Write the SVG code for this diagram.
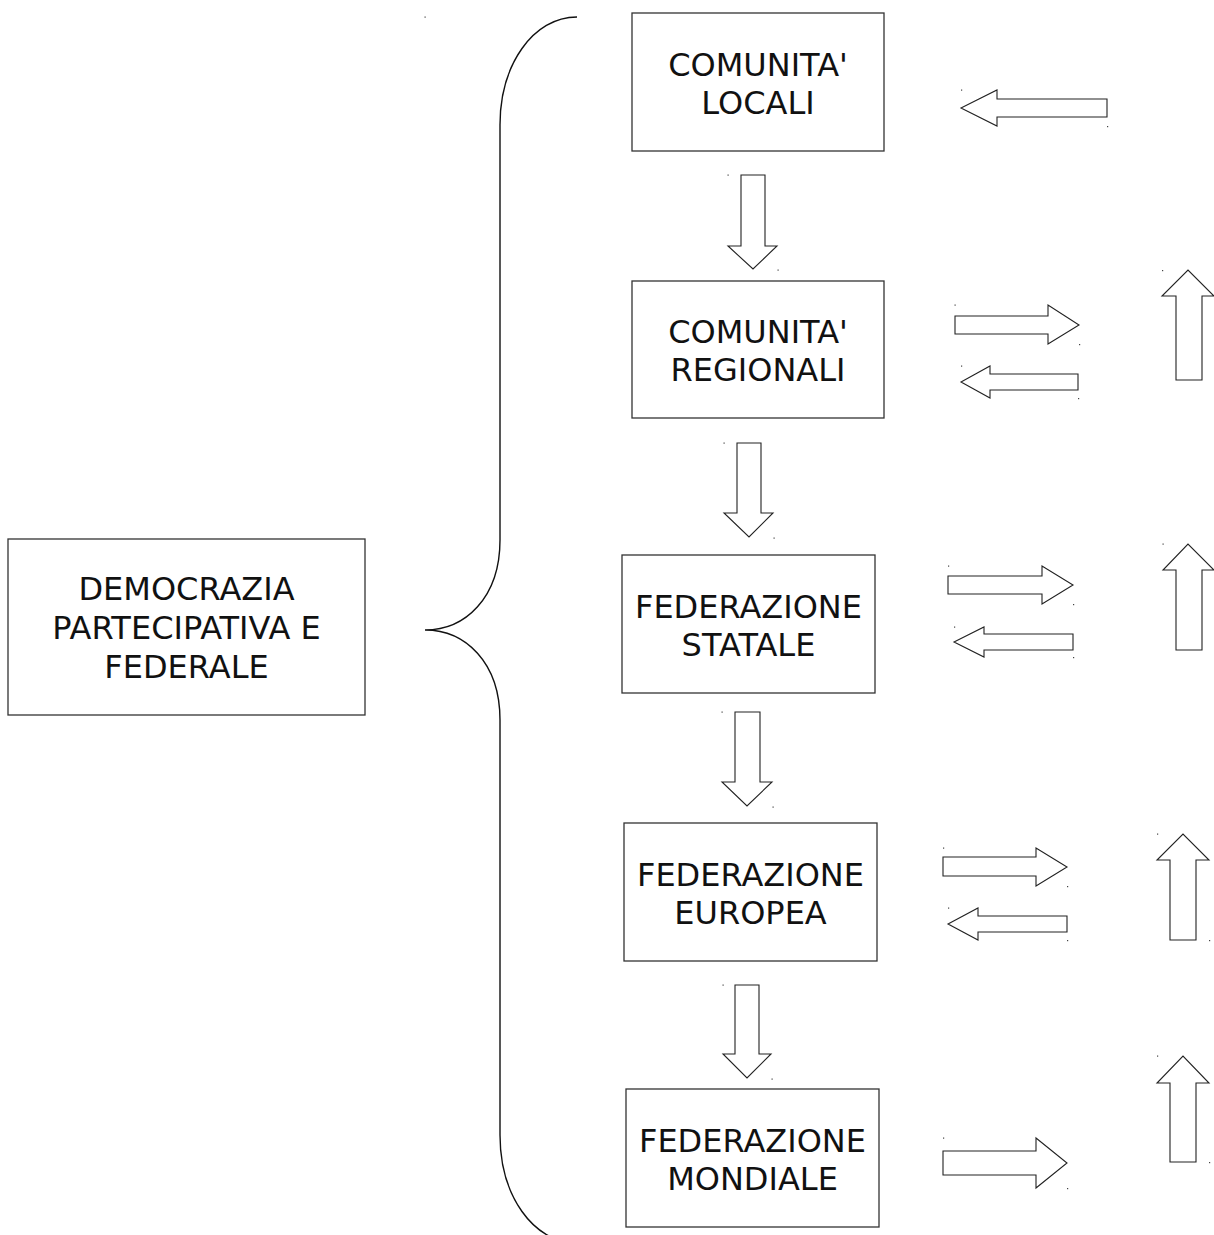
<svg xmlns="http://www.w3.org/2000/svg" width="1214" height="1235" viewBox="0 0 1214 1235">
<style>
.box{fill:#fff;stroke:#333;stroke-width:1.3}
.arr{fill:#fff;stroke:#222;stroke-width:1.1;stroke-linejoin:miter}
.brace{fill:none;stroke:#111;stroke-width:1.4}
.lbl{font-family:"DejaVu Sans",Verdana,sans-serif;font-size:32px;fill:#111;text-anchor:middle}
.dot{fill:#444}
</style>
<rect width="1214" height="1235" fill="#fff"/>
<g id="brace">
<path class="brace" d="M577,17 C533,17 500,65 500,125 L500,540 C500,598 465,630 425,630 C465,630 500,662 500,720 L500,1135 C500,1195 533,1243 577,1243"/>
<rect class="dot" x="424.5" y="16.5" width="1.2" height="1.2"/>
</g>
<g id="democrazia">
<rect class="box" x="8" y="539" width="357" height="176"/>
<text class="lbl" x="186.5" y="600">DEMOCRAZIA</text>
<text class="lbl" x="186.5" y="639">PARTECIPATIVA E</text>
<text class="lbl" x="186.5" y="678">FEDERALE</text>
</g>
<g id="locali">
<rect class="box" x="632" y="13" width="252" height="138"/>
<text class="lbl" x="758" y="76">COMUNITA'</text>
<text class="lbl" x="758" y="113.5">LOCALI</text>
</g>
<g id="regionali">
<rect class="box" x="632" y="281" width="252" height="137"/>
<text class="lbl" x="758" y="343">COMUNITA'</text>
<text class="lbl" x="758" y="380.5">REGIONALI</text>
</g>
<g id="statale">
<rect class="box" x="622" y="555" width="253" height="138"/>
<text class="lbl" x="748.5" y="618">FEDERAZIONE</text>
<text class="lbl" x="748.5" y="655.5">STATALE</text>
</g>
<g id="europea">
<rect class="box" x="624" y="823" width="253" height="138"/>
<text class="lbl" x="750.5" y="886">FEDERAZIONE</text>
<text class="lbl" x="750.5" y="923.5">EUROPEA</text>
</g>
<g id="mondiale">
<rect class="box" x="626" y="1089" width="253" height="138"/>
<text class="lbl" x="752.5" y="1152">FEDERAZIONE</text>
<text class="lbl" x="752.5" y="1189.5">MONDIALE</text>
</g>
<g id="connectors">
<polygon class="arr" points="741,175 765,175 765,246 777,246 753,269 728,246 741,246"/>
<polygon class="arr" points="737,443 761,443 761,513 773,513 749,537 724,513 737,513"/>
<polygon class="arr" points="735,712 760,712 760,782 772,782 747,806 722,782 735,782"/>
<polygon class="arr" points="735,985 759,985 759,1054 771,1054 747,1078 723,1054 735,1054"/>
<polygon class="arr" points="1107,99 1107,117 997,117 997,126 961,108 997,90 997,99"/>
<polygon class="arr" points="955,316 1048,316 1048,305 1079,325 1048,344 1048,334 955,334"/>
<polygon class="arr" points="1078,374 1078,390 990,390 990,398 961,382 990,366 990,374"/>
<polygon class="arr" points="1176,380 1202,380 1202,296 1214,296 1188,270 1162,296 1176,296"/>
<polygon class="arr" points="948,576 1042,576 1042,566 1073,585 1042,604 1042,594 948,594"/>
<polygon class="arr" points="1073,634 1073,650 984,650 984,657 954,642 984,627 984,634"/>
<polygon class="arr" points="1176,650 1202,650 1202,570 1214,570 1188,544 1163,570 1176,570"/>
<polygon class="arr" points="943,857 1036,857 1036,848 1067,867 1036,886 1036,876 943,876"/>
<polygon class="arr" points="1067,916 1067,932 978,932 978,940 948,924 978,908 978,916"/>
<polygon class="arr" points="1170,940 1196,940 1196,860 1209,860 1183,834 1157,860 1170,860"/>
<polygon class="arr" points="943,1151 1036,1151 1036,1138 1067,1163 1036,1188 1036,1175 943,1175"/>
<polygon class="arr" points="1170,1162 1196,1162 1196,1083 1209,1083 1183,1056 1157,1083 1170,1083"/>
</g>
<g id="corner-marks">
<rect class="dot" x="727.5" y="174.5" width="1.2" height="1.2"/><rect class="dot" x="777.5" y="269.5" width="1.2" height="1.2"/>
<rect class="dot" x="723.5" y="442.5" width="1.2" height="1.2"/><rect class="dot" x="773.5" y="537.5" width="1.2" height="1.2"/>
<rect class="dot" x="721.5" y="711.5" width="1.2" height="1.2"/><rect class="dot" x="772.5" y="806.5" width="1.2" height="1.2"/>
<rect class="dot" x="722.5" y="984.5" width="1.2" height="1.2"/><rect class="dot" x="771.5" y="1078.5" width="1.2" height="1.2"/>
<rect class="dot" x="961" y="89.5" width="1.2" height="1.2"/><rect class="dot" x="1107" y="126" width="1.2" height="1.2"/>
<rect class="dot" x="954.5" y="304.5" width="1.2" height="1.2"/><rect class="dot" x="1079" y="344" width="1.2" height="1.2"/>
<rect class="dot" x="961" y="365.5" width="1.2" height="1.2"/><rect class="dot" x="1078" y="398" width="1.2" height="1.2"/>
<rect class="dot" x="1162" y="270" width="1.2" height="1.2"/>
<rect class="dot" x="948" y="565.5" width="1.2" height="1.2"/><rect class="dot" x="1073" y="604" width="1.2" height="1.2"/>
<rect class="dot" x="954" y="626.5" width="1.2" height="1.2"/><rect class="dot" x="1073" y="657" width="1.2" height="1.2"/>
<rect class="dot" x="1162.5" y="543.5" width="1.2" height="1.2"/>
<rect class="dot" x="943" y="847.5" width="1.2" height="1.2"/><rect class="dot" x="1067" y="886" width="1.2" height="1.2"/>
<rect class="dot" x="948" y="907.5" width="1.2" height="1.2"/><rect class="dot" x="1067" y="940" width="1.2" height="1.2"/>
<rect class="dot" x="1157" y="833.5" width="1.2" height="1.2"/><rect class="dot" x="1209" y="940" width="1.2" height="1.2"/>
<rect class="dot" x="943" y="1137.5" width="1.2" height="1.2"/><rect class="dot" x="1067" y="1188" width="1.2" height="1.2"/>
<rect class="dot" x="1157" y="1055.5" width="1.2" height="1.2"/><rect class="dot" x="1209" y="1162" width="1.2" height="1.2"/>
</g>
</svg>
